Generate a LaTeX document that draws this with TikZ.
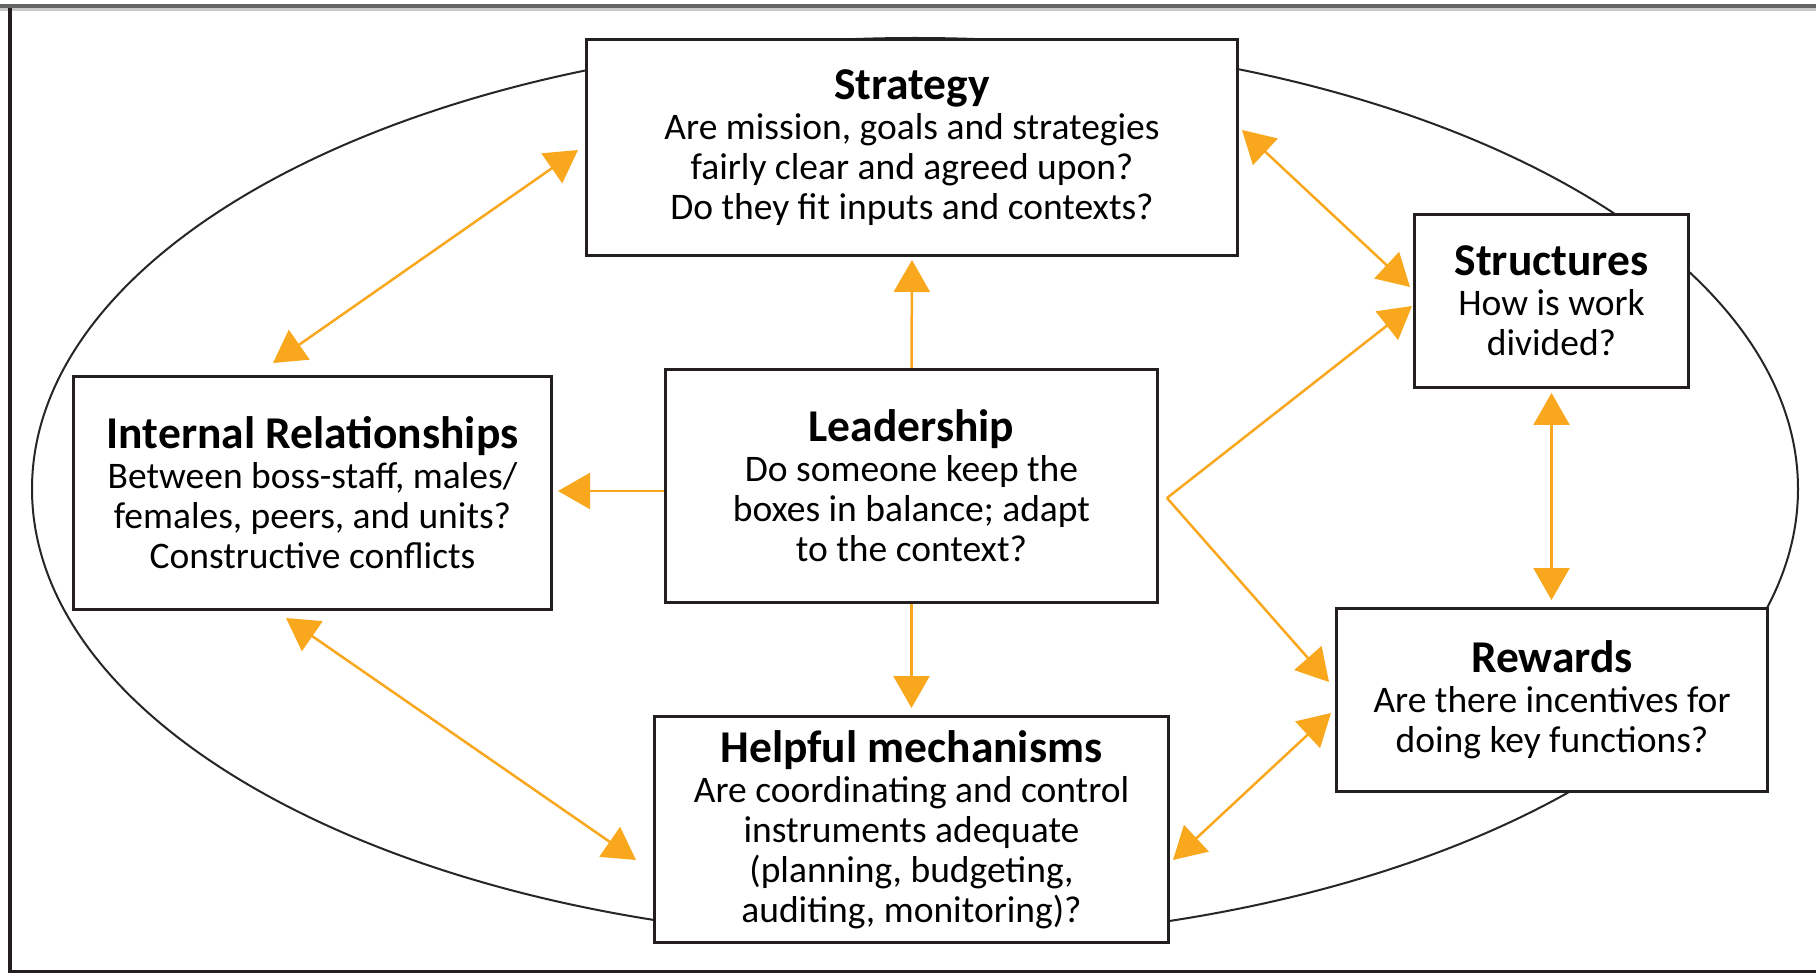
\documentclass[tikz,border=0pt]{standalone}
\usepackage{fontspec}
\setmainfont{Carlito}
\usetikzlibrary{arrows.meta,calc}
\definecolor{orng}{HTML}{F9A71C}
\definecolor{boxln}{HTML}{231F20}
\definecolor{frametop}{HTML}{646464}
\definecolor{framelight}{HTML}{C8C8C8}
\begin{document}
\begin{tikzpicture}[x=1pt,y=-1pt,
  box/.style={draw=boxln,line width=3pt,fill=white,align=center,inner sep=0pt,
    font=\fontsize{37.5}{40}\selectfont},
  ttl/.style={},
  arr/.style={draw=orng,line width=2.5pt,-{Triangle[length=32pt,width=36pt]}},
  dbl/.style={draw=orng,line width=2.5pt,{Triangle[length=32pt,width=36pt]}-{Triangle[length=32pt,width=36pt]}},
  plain/.style={draw=orng,line width=2.5pt}
]
\newcommand{\ttlfont}{\fontsize{45.5}{40}\selectfont\bfseries}
\useasboundingbox (0,0) rectangle (1816,973);
\fill[white] (0,0) rectangle (1816,973);
% frame
\fill[frametop] (0,4) rectangle (1816,8);
\fill[framelight] (0,8) rectangle (1816,11);
\draw[line width=3.5pt,boxln] (10,8) -- (10,972) -- (1816,972);
% ellipse
\draw[line width=2pt,black!85] (915,489) ellipse [x radius=883, y radius=451];
% boxes
\node[box,minimum width=651pt,minimum height=216pt] (strat) at (912,147.5)
  {{\ttlfont Strategy}\\Are mission, goals and strategies\\fairly clear and agreed upon?\\Do they fit inputs and contexts?};
\node[box,minimum width=274pt,minimum height=173pt] (struct) at (1551.5,301)
  {{\ttlfont Structures}\\How is work\\divided?};
\node[box,minimum width=478pt,minimum height=233pt] (intern) at (312.5,493)
  {{\ttlfont Internal Relationships}\\Between boss-staff, males/\\females, peers, and units?\\Constructive conflicts};
\node[box,minimum width=492pt,minimum height=233pt] (lead) at (911.5,486)
  {{\ttlfont Leadership}\\Do someone keep the\\boxes in balance; adapt\\to the context?};
\node[box,minimum width=431pt,minimum height=183pt] (rew) at (1552,700)
  {{\ttlfont Rewards}\\Are there incentives for\\doing key functions?};
\node[box,minimum width=514pt,minimum height=226pt] (help) at (911.5,829.5)
  {{\ttlfont Helpful mechanisms}\\Are coordinating and control\\instruments adequate\\(planning, budgeting,\\auditing, monitoring)?};
% connectors
\draw[dbl] ($(intern.north west)+(201,-12)$) -- ($(strat.north west)+(-7,112)$);
\draw[dbl] ($(intern.south west)+(214,7)$) -- ($(help.north west)+(-17,145)$);
\draw[arr] ($(lead.west)+(0,5)$) -- ($(intern.east)+(5,-2)$);
\draw[arr] (lead.north) -- ($(strat.south)+(0,3)$);
\draw[arr] (lead.south) -- ($(help.north)+(0,-7)$);
\coordinate (v) at ($(lead.east)+(8,12)$);
\draw[arr] (v) -- ($(struct.west)+(-1,5)$);
\draw[arr] (v) -- ($(rew.west)+(-6,-18)$);
\draw[dbl] ($(strat.east)+(3,-17.5)$) -- ($(struct.west)+(-3,-14)$);
\draw[dbl] ($(struct.south)+(0,4)$) -- ($(rew.north)+(-0.5,-7)$);
\draw[dbl] ($(rew.west)+(-4,13)$) -- ($(help.east)+(3,30.5)$);
\end{tikzpicture}
\end{document}
